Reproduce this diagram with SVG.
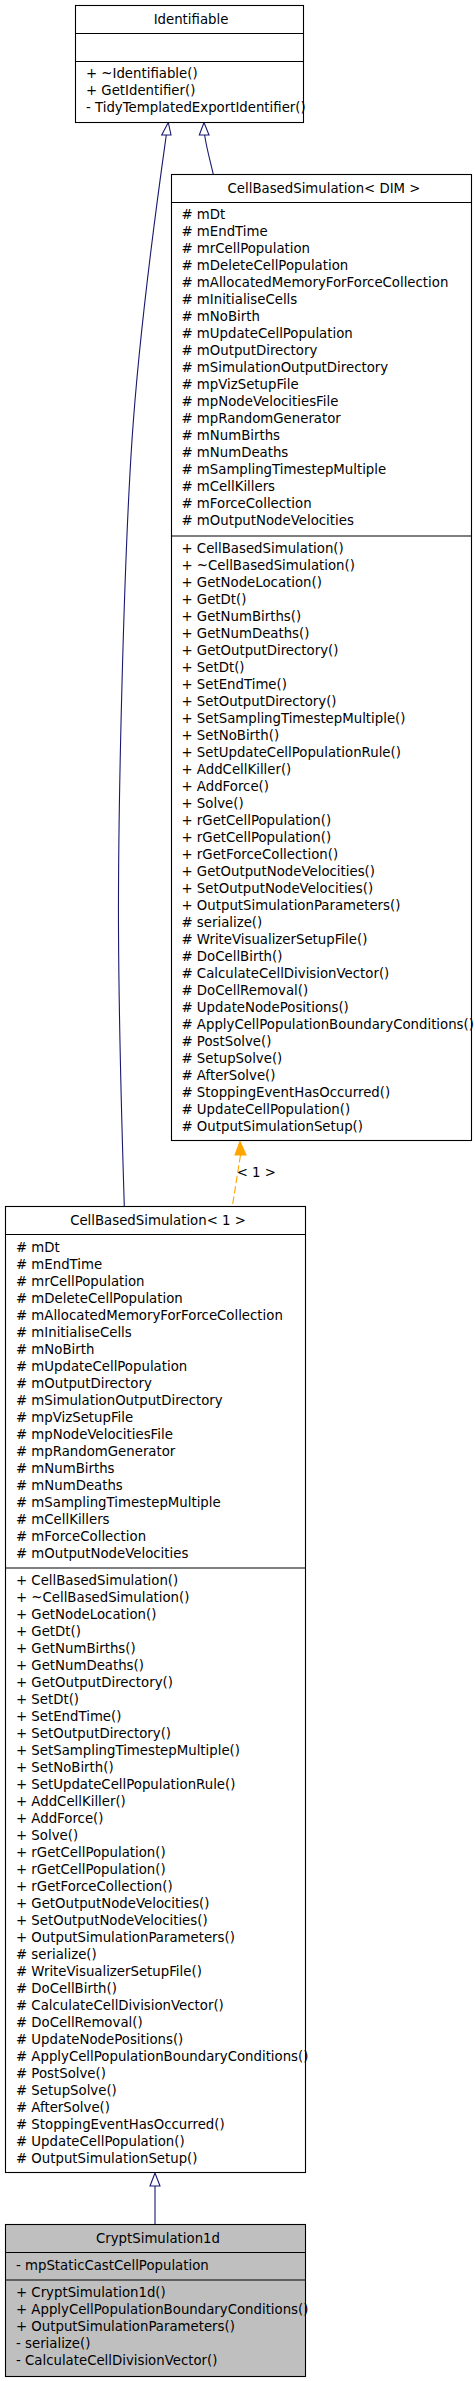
<svg xmlns="http://www.w3.org/2000/svg" width="475" height="2381" viewBox="0 0 475 2381">
<style>
text{font-family:"DejaVu Sans","Liberation Sans",sans-serif;font-size:13.3px;fill:#000}
.t{text-anchor:middle}
.box{fill:#fff;stroke:#000;stroke-width:1.1}
.gray{fill:#bfbfbf;stroke:#000;stroke-width:1.1}
.sep{stroke:#000;stroke-width:1.1}
.inh{fill:none;stroke:#191970;stroke-width:1.1}
.head{fill:#fff;stroke:#191970;stroke-width:1.1}
.tmpl{fill:none;stroke:#ffa500;stroke-width:1.1;stroke-dasharray:7.5,3}
.thead{fill:#ffa500;stroke:#ffa500;stroke-width:1.1}
</style>
<rect width="475" height="2381" fill="#fff"/>
<g id="connectors">
<path class="inh" d="M166.3,135 C160,180 140,320 132,440 C124,560 118,800 118.5,930 C119,1040 122,1130 124.3,1206.5"/>
<polygon class="head" points="168.3,122.5 161.7,135 171,135"/>
<path class="inh" d="M204.6,135 C207,150 210,160 213.3,174.5"/>
<polygon class="head" points="204,122.5 199.3,135 209,135"/>
<path class="tmpl" d="M240.5,1155 L232.3,1206.5"/>
<polygon class="thead" points="240,1141.5 235,1155 246,1155"/>
<text x="236.7" y="1177">&lt; 1 &gt;</text>
<path class="inh" d="M155,2186 L155,2224.5"/>
<polygon class="head" points="155,2173 150,2186 160,2186"/>
</g>
<g id="Identifiable">
<rect class="box" x="75.5" y="5.5" width="228" height="117"/>
<line class="sep" x1="75.5" y1="33.5" x2="303.5" y2="33.5"/>
<line class="sep" x1="75.5" y1="61.5" x2="303.5" y2="61.5"/>
<text class="t" x="191" y="24">Identifiable</text>
<text x="86" y="78"><tspan x="86">+ ~Identifiable()</tspan><tspan x="86" dy="17">+ GetIdentifier()</tspan><tspan x="86" dy="17">- TidyTemplatedExportIdentifier()</tspan></text>
</g>
<g id="CellBasedSimulationDIM">
<rect class="box" x="171.5" y="174.5" width="300" height="966"/>
<line class="sep" x1="171.5" y1="202.5" x2="471.5" y2="202.5"/>
<line class="sep" x1="171.5" y1="536" x2="471.5" y2="536"/>
<text class="t" x="324" y="193">CellBasedSimulation&lt; DIM &gt;</text>
<text x="181.5" y="218.5"><tspan x="181.5"># mDt</tspan><tspan x="181.5" dy="17"># mEndTime</tspan><tspan x="181.5" dy="17"># mrCellPopulation</tspan><tspan x="181.5" dy="17"># mDeleteCellPopulation</tspan><tspan x="181.5" dy="17"># mAllocatedMemoryForForceCollection</tspan><tspan x="181.5" dy="17"># mInitialiseCells</tspan><tspan x="181.5" dy="17"># mNoBirth</tspan><tspan x="181.5" dy="17"># mUpdateCellPopulation</tspan><tspan x="181.5" dy="17"># mOutputDirectory</tspan><tspan x="181.5" dy="17"># mSimulationOutputDirectory</tspan><tspan x="181.5" dy="17"># mpVizSetupFile</tspan><tspan x="181.5" dy="17"># mpNodeVelocitiesFile</tspan><tspan x="181.5" dy="17"># mpRandomGenerator</tspan><tspan x="181.5" dy="17"># mNumBirths</tspan><tspan x="181.5" dy="17"># mNumDeaths</tspan><tspan x="181.5" dy="17"># mSamplingTimestepMultiple</tspan><tspan x="181.5" dy="17"># mCellKillers</tspan><tspan x="181.5" dy="17"># mForceCollection</tspan><tspan x="181.5" dy="17"># mOutputNodeVelocities</tspan></text>
<text x="181.5" y="552.5"><tspan x="181.5">+ CellBasedSimulation()</tspan><tspan x="181.5" dy="17">+ ~CellBasedSimulation()</tspan><tspan x="181.5" dy="17">+ GetNodeLocation()</tspan><tspan x="181.5" dy="17">+ GetDt()</tspan><tspan x="181.5" dy="17">+ GetNumBirths()</tspan><tspan x="181.5" dy="17">+ GetNumDeaths()</tspan><tspan x="181.5" dy="17">+ GetOutputDirectory()</tspan><tspan x="181.5" dy="17">+ SetDt()</tspan><tspan x="181.5" dy="17">+ SetEndTime()</tspan><tspan x="181.5" dy="17">+ SetOutputDirectory()</tspan><tspan x="181.5" dy="17">+ SetSamplingTimestepMultiple()</tspan><tspan x="181.5" dy="17">+ SetNoBirth()</tspan><tspan x="181.5" dy="17">+ SetUpdateCellPopulationRule()</tspan><tspan x="181.5" dy="17">+ AddCellKiller()</tspan><tspan x="181.5" dy="17">+ AddForce()</tspan><tspan x="181.5" dy="17">+ Solve()</tspan><tspan x="181.5" dy="17">+ rGetCellPopulation()</tspan><tspan x="181.5" dy="17">+ rGetCellPopulation()</tspan><tspan x="181.5" dy="17">+ rGetForceCollection()</tspan><tspan x="181.5" dy="17">+ GetOutputNodeVelocities()</tspan><tspan x="181.5" dy="17">+ SetOutputNodeVelocities()</tspan><tspan x="181.5" dy="17">+ OutputSimulationParameters()</tspan><tspan x="181.5" dy="17"># serialize()</tspan><tspan x="181.5" dy="17"># WriteVisualizerSetupFile()</tspan><tspan x="181.5" dy="17"># DoCellBirth()</tspan><tspan x="181.5" dy="17"># CalculateCellDivisionVector()</tspan><tspan x="181.5" dy="17"># DoCellRemoval()</tspan><tspan x="181.5" dy="17"># UpdateNodePositions()</tspan><tspan x="181.5" dy="17"># ApplyCellPopulationBoundaryConditions()</tspan><tspan x="181.5" dy="17"># PostSolve()</tspan><tspan x="181.5" dy="17"># SetupSolve()</tspan><tspan x="181.5" dy="17"># AfterSolve()</tspan><tspan x="181.5" dy="17"># StoppingEventHasOccurred()</tspan><tspan x="181.5" dy="17"># UpdateCellPopulation()</tspan><tspan x="181.5" dy="17"># OutputSimulationSetup()</tspan></text>
</g>
<g id="CellBasedSimulation1">
<rect class="box" x="5.5" y="1206.5" width="300" height="966"/>
<line class="sep" x1="5.5" y1="1234.5" x2="305.5" y2="1234.5"/>
<line class="sep" x1="5.5" y1="1568" x2="305.5" y2="1568"/>
<text class="t" x="158" y="1225">CellBasedSimulation&lt; 1 &gt;</text>
<text x="16" y="1252"><tspan x="16"># mDt</tspan><tspan x="16" dy="17"># mEndTime</tspan><tspan x="16" dy="17"># mrCellPopulation</tspan><tspan x="16" dy="17"># mDeleteCellPopulation</tspan><tspan x="16" dy="17"># mAllocatedMemoryForForceCollection</tspan><tspan x="16" dy="17"># mInitialiseCells</tspan><tspan x="16" dy="17"># mNoBirth</tspan><tspan x="16" dy="17"># mUpdateCellPopulation</tspan><tspan x="16" dy="17"># mOutputDirectory</tspan><tspan x="16" dy="17"># mSimulationOutputDirectory</tspan><tspan x="16" dy="17"># mpVizSetupFile</tspan><tspan x="16" dy="17"># mpNodeVelocitiesFile</tspan><tspan x="16" dy="17"># mpRandomGenerator</tspan><tspan x="16" dy="17"># mNumBirths</tspan><tspan x="16" dy="17"># mNumDeaths</tspan><tspan x="16" dy="17"># mSamplingTimestepMultiple</tspan><tspan x="16" dy="17"># mCellKillers</tspan><tspan x="16" dy="17"># mForceCollection</tspan><tspan x="16" dy="17"># mOutputNodeVelocities</tspan></text>
<text x="16" y="1585"><tspan x="16">+ CellBasedSimulation()</tspan><tspan x="16" dy="17">+ ~CellBasedSimulation()</tspan><tspan x="16" dy="17">+ GetNodeLocation()</tspan><tspan x="16" dy="17">+ GetDt()</tspan><tspan x="16" dy="17">+ GetNumBirths()</tspan><tspan x="16" dy="17">+ GetNumDeaths()</tspan><tspan x="16" dy="17">+ GetOutputDirectory()</tspan><tspan x="16" dy="17">+ SetDt()</tspan><tspan x="16" dy="17">+ SetEndTime()</tspan><tspan x="16" dy="17">+ SetOutputDirectory()</tspan><tspan x="16" dy="17">+ SetSamplingTimestepMultiple()</tspan><tspan x="16" dy="17">+ SetNoBirth()</tspan><tspan x="16" dy="17">+ SetUpdateCellPopulationRule()</tspan><tspan x="16" dy="17">+ AddCellKiller()</tspan><tspan x="16" dy="17">+ AddForce()</tspan><tspan x="16" dy="17">+ Solve()</tspan><tspan x="16" dy="17">+ rGetCellPopulation()</tspan><tspan x="16" dy="17">+ rGetCellPopulation()</tspan><tspan x="16" dy="17">+ rGetForceCollection()</tspan><tspan x="16" dy="17">+ GetOutputNodeVelocities()</tspan><tspan x="16" dy="17">+ SetOutputNodeVelocities()</tspan><tspan x="16" dy="17">+ OutputSimulationParameters()</tspan><tspan x="16" dy="17"># serialize()</tspan><tspan x="16" dy="17"># WriteVisualizerSetupFile()</tspan><tspan x="16" dy="17"># DoCellBirth()</tspan><tspan x="16" dy="17"># CalculateCellDivisionVector()</tspan><tspan x="16" dy="17"># DoCellRemoval()</tspan><tspan x="16" dy="17"># UpdateNodePositions()</tspan><tspan x="16" dy="17"># ApplyCellPopulationBoundaryConditions()</tspan><tspan x="16" dy="17"># PostSolve()</tspan><tspan x="16" dy="17"># SetupSolve()</tspan><tspan x="16" dy="17"># AfterSolve()</tspan><tspan x="16" dy="17"># StoppingEventHasOccurred()</tspan><tspan x="16" dy="17"># UpdateCellPopulation()</tspan><tspan x="16" dy="17"># OutputSimulationSetup()</tspan></text>
</g>
<g id="CryptSimulation1d">
<rect class="gray" x="5.5" y="2224.5" width="300" height="152"/>
<line class="sep" x1="5.5" y1="2252.5" x2="305.5" y2="2252.5"/>
<line class="sep" x1="5.5" y1="2280" x2="305.5" y2="2280"/>
<text class="t" x="158" y="2243">CryptSimulation1d</text>
<text x="16" y="2270.4">- mpStaticCastCellPopulation</text>
<text x="16" y="2297.4"><tspan x="16">+ CryptSimulation1d()</tspan><tspan x="16" dy="17">+ ApplyCellPopulationBoundaryConditions()</tspan><tspan x="16" dy="17">+ OutputSimulationParameters()</tspan><tspan x="16" dy="17">- serialize()</tspan><tspan x="16" dy="17">- CalculateCellDivisionVector()</tspan></text>
</g>
</svg>
